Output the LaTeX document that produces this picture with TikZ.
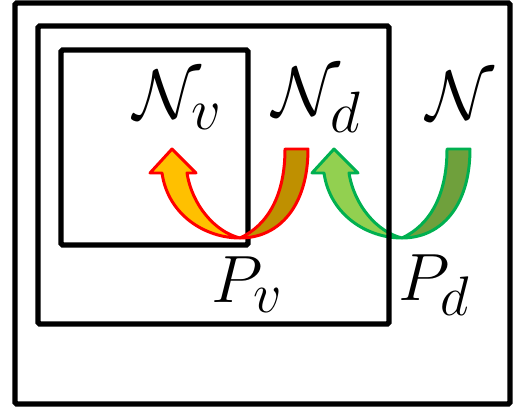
\documentclass[tikz,border=0pt]{standalone}
\usepackage{graphicx}
\usepackage{amsmath}
\definecolor{orlite}{HTML}{FFC000}
\definecolor{ordark}{HTML}{BF9000}
\definecolor{grlite}{HTML}{92D050}
\definecolor{grdark}{HTML}{6FA03C}
\definecolor{gredge}{HTML}{00B050}
\tikzset{
  box/.style={line width=3.1pt, rounded corners=1pt},
  sym/.style={inner sep=0pt, font=\Huge},
  pics/uturn/.style n args={3}{code={
    \filldraw[fill=#1, draw=#3, line width=1.7pt, line join=round]
      (240,238) .. controls (205,238) and (168,215) .. (162,173)
      -- (150,173) -- (172,149) -- (196,173) -- (187,173)
      .. controls (192,205) and (215,232) .. cycle;
    \filldraw[fill=#2, draw=#3, line width=1.7pt, line join=round]
      (240,238) .. controls (280,238) and (308,205) .. (308,149)
      -- (285,149) .. controls (285,195) and (268,225) .. cycle;
  }}
}
\begin{document}
\begin{tikzpicture}[x=0.02cm, y=-0.02cm]
  \useasboundingbox (0,0) rectangle (513,411);
  % green turn sits under the boxes
  \pic at (162,0) {uturn={grlite}{grdark}{gredge}};
  \draw[box] (15,3) rectangle (510,404);
  \draw[box] (38,26) rectangle (389,324);
  \draw[box] (61,50) rectangle (248,245);
  \pic at (0,0) {uturn={orlite}{ordark}{red}};
  \node[sym] (nv) at (178,100) {\scalebox{1.6}{$\mathcal{N}_v$}};
  \node[sym] (nd) at (317,100) {\scalebox{1.6}{$\mathcal{N}_d$}};
  \node[sym] (n) at (460,96) {\scalebox{1.6}{$\mathcal{N}$}};
  \node[sym] (pv) at (247,285) {\scalebox{1.53}{$P_v$}};
  \node[sym] (pd) at (434,285) {\scalebox{1.53}{$P_d$}};
\end{tikzpicture}
\end{document}
